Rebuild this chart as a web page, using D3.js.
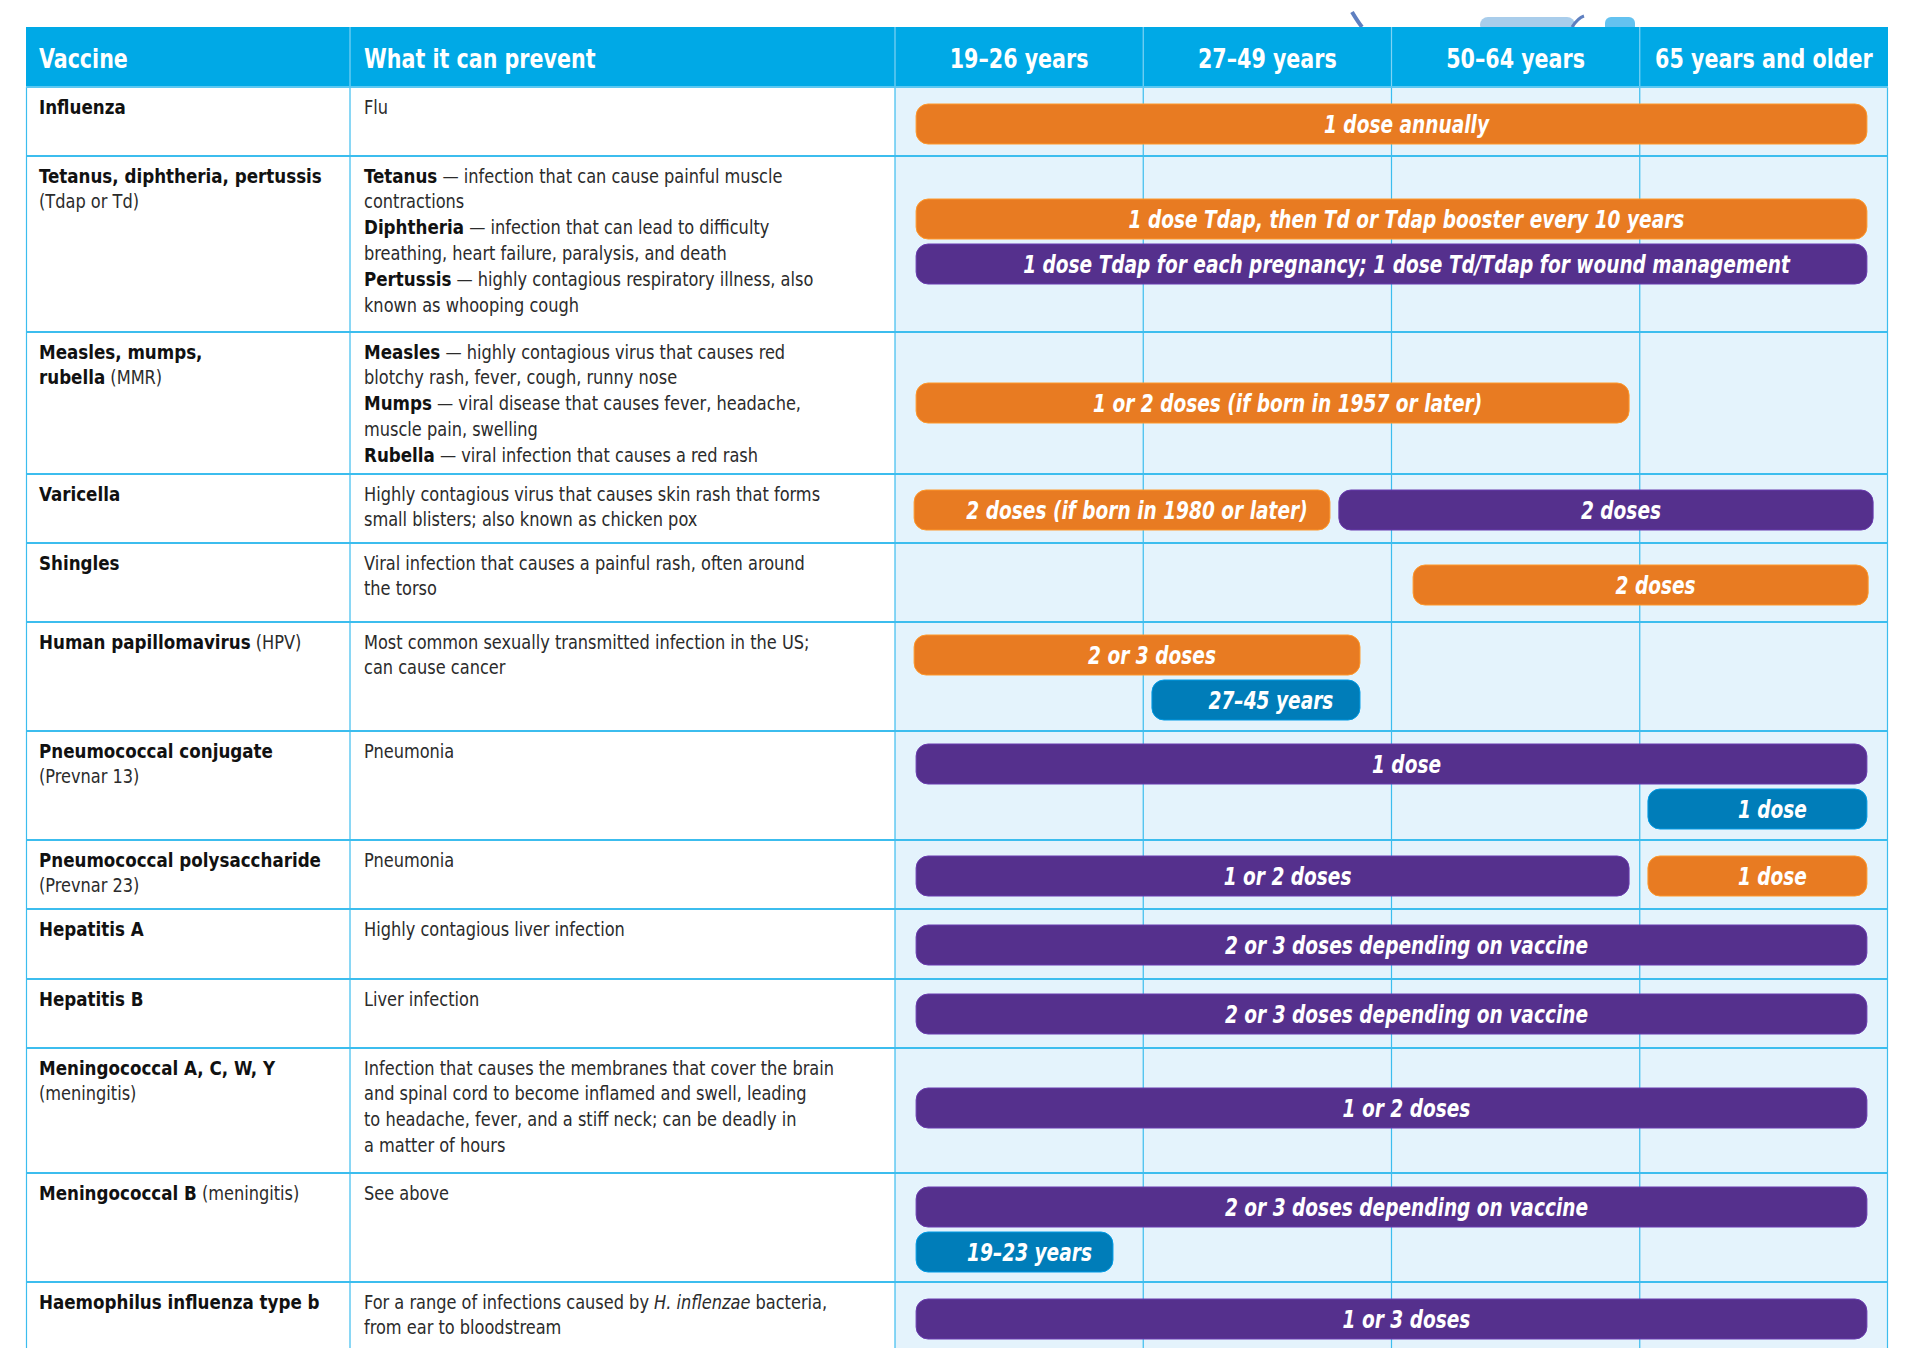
<!DOCTYPE html>
<html>
<head>
<meta charset="utf-8">
<script src="https://cdn.jsdelivr.net/npm/d3@7"></script>
<style>
  html, body { margin: 0; padding: 0; background: #ffffff; }
  svg { display: block; }
  text { font-family: "DejaVu Sans Condensed", "DejaVu Sans", "Liberation Sans", sans-serif; white-space: pre; }
</style>
</head>
<body>
<svg id="chart" width="1920" height="1368"></svg>
<script>
// ---------------- DATA ----------------
const headerLabels = ["Vaccine", "What it can prevent"];
const ageGroups = ["19–26 years", "27–49 years", "50–64 years", "65 years and older"];

// Each line is a list of [text, style] segments: b = bold, n = normal, i = italic
const vaccineNames = [
  [[["Influenza", "b"]]],
  [[["Tetanus, diphtheria, pertussis", "b"]], [["(Tdap or Td)", "n"]]],
  [[["Measles, mumps,", "b"]], [["rubella", "b"], [" (MMR)", "n"]]],
  [[["Varicella", "b"]]],
  [[["Shingles", "b"]]],
  [[["Human papillomavirus", "b"], [" (HPV)", "n"]]],
  [[["Pneumococcal conjugate", "b"]], [["(Prevnar 13)", "n"]]],
  [[["Pneumococcal polysaccharide", "b"]], [["(Prevnar 23)", "n"]]],
  [[["Hepatitis A", "b"]]],
  [[["Hepatitis B", "b"]]],
  [[["Meningococcal A, C, W, Y", "b"]], [["(meningitis)", "n"]]],
  [[["Meningococcal B", "b"], [" (meningitis)", "n"]]],
  [[["Haemophilus influenza type b", "b"]]]
];

const preventions = [
  [[["Flu", "n"]]],
  [[["Tetanus", "b"], [" — infection that can cause painful muscle", "n"]],
   [["contractions", "n"]],
   [["Diphtheria", "b"], [" — infection that can lead to difficulty", "n"]],
   [["breathing, heart failure, paralysis, and death", "n"]],
   [["Pertussis", "b"], [" — highly contagious respiratory illness, also", "n"]],
   [["known as whooping cough", "n"]]],
  [[["Measles", "b"], [" — highly contagious virus that causes red", "n"]],
   [["blotchy rash, fever, cough, runny nose", "n"]],
   [["Mumps", "b"], [" — viral disease that causes fever, headache,", "n"]],
   [["muscle pain, swelling", "n"]],
   [["Rubella", "b"], [" — viral infection that causes a red rash", "n"]]],
  [[["Highly contagious virus that causes skin rash that forms", "n"]],
   [["small blisters; also known as chicken pox", "n"]]],
  [[["Viral infection that causes a painful rash, often around", "n"]],
   [["the torso", "n"]]],
  [[["Most common sexually transmitted infection in the US;", "n"]],
   [["can cause cancer", "n"]]],
  [[["Pneumonia", "n"]]],
  [[["Pneumonia", "n"]]],
  [[["Highly contagious liver infection", "n"]]],
  [[["Liver infection", "n"]]],
  [[["Infection that causes the membranes that cover the brain", "n"]],
   [["and spinal cord to become inflamed and swell, leading", "n"]],
   [["to headache, fever, and a stiff neck; can be deadly in", "n"]],
   [["a matter of hours", "n"]]],
  [[["See above", "n"]]],
  [[["For a range of infections caused by ", "n"], ["H. inflenzae", "i"], [" bacteria,", "n"]],
   [["from ear to bloodstream", "n"]]]
];

// Bars: row index, lane within row, start / end in age-column units (0 = start of 19–26, 4 = end of 65+)
const barRows   = [0, 1, 1, 2, 3, 3, 4, 5, 5, 6, 6, 7, 7, 8, 9, 10, 11, 11, 12];
const barLanes  = [0, 0, 1, 0, 0, 0, 0, 0, 1, 0, 1, 0, 0, 0, 0, 0, 0, 1, 0];
const barStarts = [0.085, 0.085, 0.085, 0.085, 0.077, 1.788, 2.087, 0.077, 1.035, 0.085, 3.033, 0.085, 3.033, 0.085, 0.085, 0.085, 0.085, 0.085, 0.085];
const barEnds   = [3.915, 3.915, 3.915, 2.957, 1.752, 3.940, 3.920, 1.873, 1.873, 3.915, 3.915, 2.957, 3.915, 3.915, 3.915, 3.915, 3.915, 0.878, 3.915];
const barTypes  = ["o", "o", "p", "o", "o", "p", "o", "o", "b", "p", "b", "p", "o", "p", "p", "p", "p", "b", "p"];
const barLabels = [
  "1 dose annually",
  "1 dose Tdap, then Td or Tdap booster every 10 years",
  "1 dose Tdap for each pregnancy; 1 dose Td/Tdap for wound management",
  "1 or 2 doses (if born in 1957 or later)",
  "2 doses (if born in 1980 or later)",
  "2 doses",
  "2 doses",
  "2 or 3 doses",
  "27–45 years",
  "1 dose",
  "1 dose",
  "1 or 2 doses",
  "1 dose",
  "2 or 3 doses depending on vaccine",
  "2 or 3 doses depending on vaccine",
  "1 or 2 doses",
  "2 or 3 doses depending on vaccine",
  "19–23 years",
  "1 or 3 doses"
];

// ---------------- LAYOUT / STYLE ----------------
const COLORS = {
  header: "#00A9E6",
  headerDivider: "#7FD3F4",
  grid: "#3CBDEE",
  ageBg: "#E4F3FC",
  text: "#2b2b2b",
  o: "#E87B22",
  p: "#55308D",
  b: "#007DB9"
};
const SX = { b: 0.93, n: 0.90, i: 0.90 };
const SX_HEAD = 0.85, SX_BAR = 0.86;
const tableLeft = 26, tableRight = 1888;
const col2X = 350, ageLeft = 895;
const headerTop = 27, headerBottom = 87;
const rowHeights = [69, 176, 142, 69, 79, 109, 109, 69, 70, 69, 125, 109, 66];
const rowBarShift = [2.5, -2.5, 0, 1.5, 2.5, 1, 1, 1.5, 1, 0.5, -2.5, 2, 4];
const rowTops = [];
{ let y = headerBottom; rowHeights.forEach(h => { rowTops.push(y); y += h; }); }
const tableBottom = rowTops[rowTops.length - 1] + rowHeights[rowHeights.length - 1];

const svg = d3.select("#chart");

const x = d3.scaleLinear().domain([0, 4]).range([ageLeft, tableRight]);
const colBand = d3.scaleBand().domain(ageGroups).range([ageLeft, tableRight]);

// text helper: condensed look via horizontal scaling around the anchor point
function ctext(parent, px, py, sx) {
  return parent.append("text").attr("transform", `translate(${px},${py}) scale(${sx},1)`);
}

// decorative fragment above header (cropped illustration)
const deco = svg.append("g");
deco.append("path").attr("d", "M1352,12 Q1358,22 1362,27").attr("stroke", "#5E7FC0").attr("stroke-width", 4).attr("fill", "none");
deco.append("rect").attr("x", 1480).attr("y", 17).attr("width", 95).attr("height", 16).attr("rx", 8).attr("fill", "#A9CDEB");
deco.append("rect").attr("x", 1605).attr("y", 17).attr("width", 30).attr("height", 16).attr("rx", 6).attr("fill", "#63C2F0");
deco.append("path").attr("d", "M1572,27 Q1578,18 1584,16").attr("stroke", "#5E7FC0").attr("stroke-width", 3).attr("fill", "none");

// age-column background
svg.append("rect")
  .attr("x", ageLeft).attr("y", headerBottom)
  .attr("width", tableRight - ageLeft).attr("height", tableBottom - headerBottom)
  .attr("fill", COLORS.ageBg);

// header
svg.append("rect")
  .attr("x", tableLeft).attr("y", headerTop)
  .attr("width", tableRight - tableLeft).attr("height", headerBottom - headerTop)
  .attr("fill", COLORS.header);

// header dividers
[col2X, ...ageGroups.map(a => colBand(a))].forEach(xx => {
  svg.append("line").attr("x1", xx).attr("x2", xx).attr("y1", headerTop).attr("y2", headerBottom)
    .attr("stroke", COLORS.headerDivider).attr("stroke-width", 1.2);
});

// grid lines: verticals in body
[tableLeft + 0.5, col2X, ...ageGroups.map(a => colBand(a)), tableRight - 0.5].forEach(xx => {
  svg.append("line").attr("x1", xx).attr("x2", xx).attr("y1", headerBottom).attr("y2", tableBottom)
    .attr("stroke", COLORS.grid).attr("stroke-width", 1.2);
});
// horizontal row lines
rowTops.slice(1).forEach(y => {
  svg.append("line").attr("x1", tableLeft).attr("x2", tableRight).attr("y1", y).attr("y2", y)
    .attr("stroke", COLORS.grid).attr("stroke-width", 2);
});
svg.append("line").attr("x1", tableLeft).attr("x2", tableRight).attr("y1", headerBottom).attr("y2", headerBottom)
  .attr("stroke", "#5CC8F2").attr("stroke-width", 2);

// header labels
const hdrBase = 68;
[[headerLabels[0], 39], [headerLabels[1], 364]].forEach(([s, xx]) => {
  ctext(svg, xx, hdrBase, SX_HEAD).text(s)
    .attr("fill", "#fff").attr("font-weight", "bold").attr("font-size", 27);
});
ageGroups.forEach(d => {
  ctext(svg, colBand(d) + colBand.bandwidth() / 2, hdrBase, SX_HEAD)
    .attr("text-anchor", "middle")
    .attr("fill", "#fff").attr("font-weight", "bold").attr("font-size", 27)
    .text(d);
});

// rich text writer: each segment is its own text, scaled by its weight
function writeLines(lines, x0, y0) {
  const lh = 25.8;
  lines.forEach((line, li) => {
    let cx = x0;
    line.forEach(([s, st]) => {
      const t = ctext(svg, cx, y0 + li * lh, SX[st])
        .attr("font-size", 20)
        .attr("font-weight", st === "b" ? "bold" : "normal")
        .attr("font-style", st === "i" ? "italic" : "normal")
        .attr("fill", st === "b" ? "#111" : COLORS.text)
        .text(s);
      cx += t.node().getComputedTextLength() * SX[st];
    });
  });
}
vaccineNames.forEach((lines, i) => writeLines(lines, 39, rowTops[i] + 26.5));
preventions.forEach((lines, i) => writeLines(lines, 364, rowTops[i] + 26.5));

// bars
const laneCount = rowHeights.map((_, r) => d3.max(barRows.map((rr, k) => rr === r ? barLanes[k] + 1 : 0)));
const barH = 40, lanePitch = 45;
const bars = barRows.map((r, k) => {
  const n = laneCount[r];
  const center = rowTops[r] + rowHeights[r] / 2 + rowBarShift[r];
  const y0 = center - (n * lanePitch - (lanePitch - barH)) / 2 + barLanes[k] * lanePitch;
  return { x0: x(barStarts[k]), x1: x(barEnds[k]), y: y0, color: COLORS[barTypes[k]], label: barLabels[k] };
});
const bg = svg.append("g");
bg.selectAll("rect.bar").data(bars).join("rect")
  .attr("class", "bar")
  .attr("x", d => d.x0).attr("y", d => d.y)
  .attr("width", d => d.x1 - d.x0).attr("height", barH)
  .attr("rx", 12).attr("ry", 12)
  .attr("fill", d => d.color)
  .attr("stroke", d => d3.color(d.color).brighter(0.6)).attr("stroke-width", 1);
bars.forEach(d => {
  ctext(bg, (d.x0 + d.x1) / 2 + 15, d.y + barH / 2 + 8.5, SX_BAR)
    .attr("text-anchor", "middle")
    .attr("fill", "#fff").attr("font-weight", "bold").attr("font-style", "italic").attr("font-size", 24)
    .text(d.label);
});
</script>
</body>
</html>
